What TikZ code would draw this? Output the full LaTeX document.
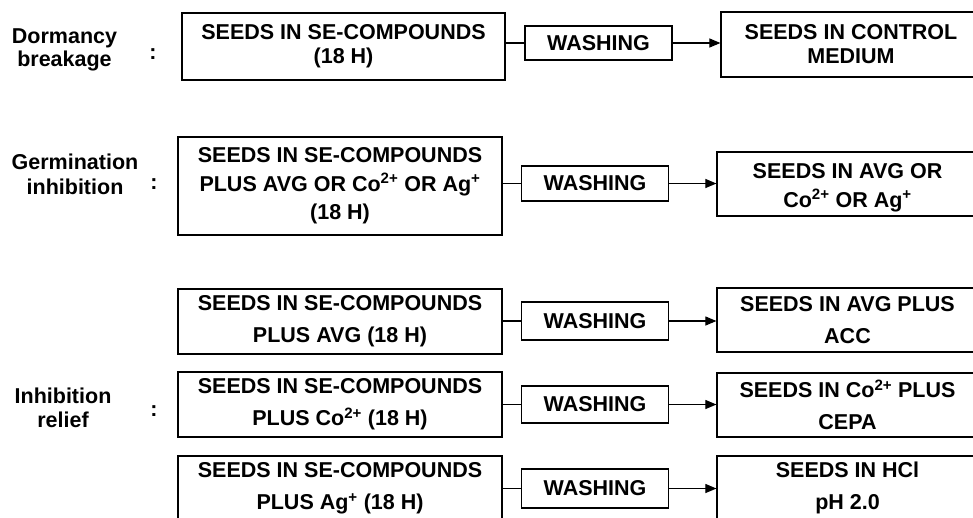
\documentclass[tikz,border=0pt]{standalone}
\usepackage{fontspec}
\setmainfont{Liberation Sans}
\usetikzlibrary{arrows.meta}
\newcommand\myhs[1]{\rule{0pt}{#1}}
\begin{document}
\begin{tikzpicture}[x=1pt,y=-1pt,
  every node/.style={inner sep=0pt},
  txtA/.style={font=\bfseries\fontsize{21.5}{24}\selectfont},
  txtB/.style={font=\bfseries\fontsize{21.5}{28.5}\selectfont},
  txtC/.style={font=\bfseries\fontsize{21.5}{32}\selectfont},
  lbl/.style={align=center, font=\bfseries\fontsize{21.5}{23.5}\selectfont},
  box/.style={draw, line width=1.2pt, align=center},
  wash/.style={box, txtA, minimum width=147pt},
  conn/.style={line width=1.1pt},
  arr/.style={line width=1.1pt, -{Triangle[length=11pt,width=9pt]}}
]
\useasboundingbox (0,0) rectangle (973,517);
\clip (0,0) rectangle (973,517);

% labels
\node[lbl] (lab1) at (64.5,50) {Dormancy\\breakage};
\node[lbl, font=\bfseries\fontsize{21.5}{25}\selectfont] (lab2) at (75,174) {Germination\\inhibition};
\node[lbl] (lab3) at (63,408) {Inhibition\\relief};
\node[lbl] (col1) at (153,54) {:};
\node[lbl] (col2) at (154,184) {:};
\node[lbl] (col3) at (154,411) {:};

% row 1
\node[box, txtA, minimum width=323pt, minimum height=67pt] (L1) at (343.5,46.5) {SEEDS IN SE-COMPOUNDS\\(18 H)};
\node[wash, minimum height=34pt] (W1) at (598.5,43) {WASHING};
\node[box, txtA, minimum width=260pt, minimum height=65pt] (R1) at (851,44.5) {SEEDS IN CONTROL\\MEDIUM};

% row 2
\node[box, txtB, minimum width=324pt, minimum height=98pt] (L2) at (340,186) {SEEDS IN SE-COMPOUNDS\\PLUS AVG OR Co\textsuperscript{2+} OR Ag\textsuperscript{+}\\(18 H)};
\node[wash, minimum height=35pt] (W2) at (595,183.5) {WASHING};
\node[box, txtB, minimum width=261pt, minimum height=64pt] (R2) at (847.5,184) {\myhs{23pt}SEEDS IN AVG OR\\Co\textsuperscript{2+} OR Ag\textsuperscript{+}};

% row 3
\node[box, txtC, minimum width=324pt, minimum height=65pt] (L3) at (340,321.5) {SEEDS IN SE-COMPOUNDS\\PLUS AVG (18 H)};
\node[wash, minimum height=38pt] (W3) at (595,321) {WASHING};
\node[box, txtC, minimum width=261pt, minimum height=64pt] (R3) at (847.5,320) {SEEDS IN AVG PLUS\\ACC};

% row 4
\node[box, txtC, minimum width=324pt, minimum height=65pt] (L4) at (340,404.5) {SEEDS IN SE-COMPOUNDS\\PLUS Co\textsuperscript{2+} (18 H)};
\node[wash, minimum height=37pt] (W4) at (595,404.5) {WASHING};
\node[box, txtC, minimum width=261pt, minimum height=64pt] (R4) at (847.5,405) {SEEDS IN Co\textsuperscript{2+} PLUS\\CEPA};

% row 5
\node[box, txtC, minimum width=324pt, minimum height=65pt] (L5) at (340,488.5) {SEEDS IN SE-COMPOUNDS\\PLUS Ag\textsuperscript{+} (18 H)};
\node[wash, minimum height=39pt] (W5) at (595,488.5) {WASHING};
\node[box, txtC, minimum width=261pt, minimum height=64pt] (R5) at (847.5,488) {SEEDS IN HCl\\pH 2.0};

% connectors
\foreach \i in {1,...,5}{
  \draw[conn] (W\i.west -| L\i.east) -- (W\i.west);
  \draw[arr] (W\i.east) -- (W\i.east -| R\i.west);
}
\end{tikzpicture}
\end{document}
